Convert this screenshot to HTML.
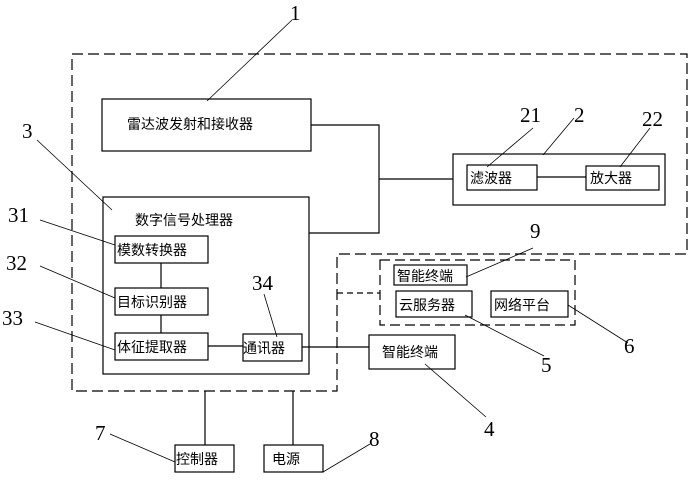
<!DOCTYPE html>
<html><head><meta charset="utf-8"><style>
body{margin:0;background:#fff}
svg text{font-family:"Liberation Sans","Noto Sans CJK SC",sans-serif;font-size:14px;fill:#000}
svg text.n{font-family:"Liberation Serif",serif;font-size:21px}
</style></head><body>
<svg width="692" height="476" viewBox="0 0 692 476" xmlns="http://www.w3.org/2000/svg">
<g fill="none" stroke="#000" stroke-width="1.2">
<path d="M72,54 H687 V254 H337 V391 H72 Z" stroke-dasharray="11,5"/>
<path d="M337,293 H380" stroke-dasharray="6,4"/>
<rect x="380" y="260" width="195" height="65" stroke-dasharray="10,5"/>
<rect x="102" y="99" width="209" height="52"/>
<rect x="103" y="197" width="206" height="177"/>
<rect x="115" y="236" width="93" height="27"/>
<rect x="115" y="288" width="93" height="27"/>
<rect x="115" y="333" width="93" height="27"/>
<rect x="243" y="334" width="59" height="27"/>
<rect x="453" y="154" width="212" height="51"/>
<rect x="467" y="165" width="70" height="25"/>
<rect x="586" y="166" width="73" height="24"/>
<rect x="394" y="265" width="73" height="20"/>
<rect x="396" y="291" width="76" height="26"/>
<rect x="491" y="291" width="77" height="26"/>
<rect x="369" y="335" width="86" height="34"/>
<rect x="175" y="445" width="59" height="27"/>
<rect x="264" y="445" width="59" height="27"/>
<path d="M311,125 H379 V233 H309 M379,179 H453 M537,177 H586 M161,263 V288 M161,315 V333 M208,346 H243 M302,347 H369 M205,391 V445 M293,391 V445"/>
</g>
<g fill="none" stroke="#000" stroke-width="0.8">
<path d="M292,20 L207,101 M37,140 L112,210 M40,220 L115,245 M40,266 L115,298 M35,322 L115,350 M264,294 L277,337 M533,128 L487,167 M574,118 L543,155 M650,128 L620,167 M533,248 L466,277 M544,356 L465,315 M628,343 L568,305 M486,417 L425,364 M110,434 L175,462 M370,444 L323,472"/>
</g>
<text x="127" y="129">雷达波发射和接收器</text>
<text x="135" y="225">数字信号处理器</text>
<text x="117" y="255">模数转换器</text>
<text x="117" y="307">目标识别器</text>
<text x="117" y="352">体征提取器</text>
<text x="243" y="353">通讯器</text>
<text x="470" y="183">滤波器</text>
<text x="590" y="183">放大器</text>
<text x="397" y="281">智能终端</text>
<text x="399" y="310">云服务器</text>
<text x="494" y="310">网络平台</text>
<text x="382" y="357">智能终端</text>
<text x="176" y="464">控制器</text>
<text x="272" y="464">电源</text>
<text class="n" x="290" y="20">1</text>
<text class="n" x="22" y="138">3</text>
<text class="n" x="8" y="222">31</text>
<text class="n" x="6" y="270">32</text>
<text class="n" x="2" y="325">33</text>
<text class="n" x="252" y="290">34</text>
<text class="n" x="520" y="122">21</text>
<text class="n" x="574" y="122">2</text>
<text class="n" x="642" y="126">22</text>
<text class="n" x="530" y="238">9</text>
<text class="n" x="541" y="372">5</text>
<text class="n" x="624" y="353">6</text>
<text class="n" x="484" y="436">4</text>
<text class="n" x="95" y="440">7</text>
<text class="n" x="369" y="446">8</text>
</svg>
</body></html>
